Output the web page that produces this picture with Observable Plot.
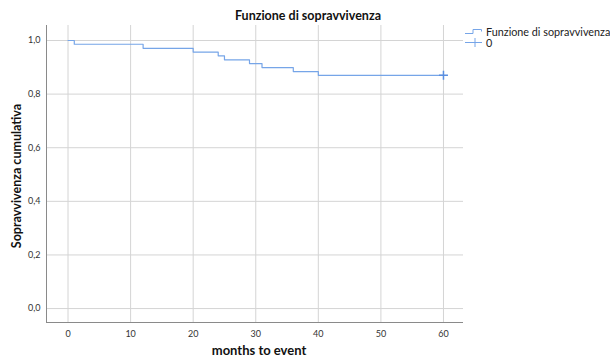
<!DOCTYPE html>
<html><head><meta charset="utf-8">
<script src="https://cdn.jsdelivr.net/npm/d3@7"></script>
<script src="https://cdn.jsdelivr.net/npm/@observablehq/plot@0.6"></script>
<style>
html,body{margin:0;padding:0;background:#fff;}
#chart{position:relative;width:610px;height:357px;}
</style>
</head><body><div id="chart"></div>
<script>
// Kaplan-Meier survival steps
const eventTimes = [0, 1, 12, 20, 24, 25, 29, 31, 36, 40, 60];
const survival   = [1.0, 0.986, 0.971, 0.957, 0.943, 0.928, 0.914, 0.899, 0.884, 0.870, 0.870];
const censorTimes = [60];
const censorSurv  = [0.870];
const xTicks = [0, 10, 20, 30, 40, 50, 60];
const yTicks = [0, 0.2, 0.4, 0.6, 0.8, 1.0];
const titleText = "Funzione di sopravvivenza";
const xLabel = "months to event";
const yLabel = "Sopravvivenza cumulativa";
const legendItems = ["Funzione di sopravvivenza", "0"];

const xDomain = [-3.44, 63.2];
const yDomain = [-0.052, 1.056];
const lineColor = "#76a5e8";
const censorColor = "#5a8fe0";
const gridColor = "#d4d4d4";
const font = "Lato, 'Open Sans', sans-serif";

const steps = eventTimes.map((t, i) => ({t, s: survival[i]}));
const cens = censorTimes.map((t, i) => ({t, s: censorSurv[i]}));
const yFmt = d => d.toFixed(1).replace(".", ",");

const plot = Plot.plot({
  width: 610, height: 357,
  marginLeft: 46, marginRight: 147, marginTop: 25, marginBottom: 35,
  style: {fontFamily: font, fontSize: "9px", color: "#333", background: "#fff"},
  x: {domain: xDomain, label: null},
  y: {domain: yDomain, label: null},
  marks: [
    Plot.gridX(xTicks, {stroke: gridColor, strokeOpacity: 1, strokeWidth: 1}),
    Plot.gridY(yTicks, {stroke: gridColor, strokeOpacity: 1, strokeWidth: 1}),
    Plot.axisX(xTicks, {tickSize: 0, tickPadding: 8, fontSize: 9, fill: "#333", tickFormat: d => String(d), label: null}),
    Plot.axisY(yTicks, {tickSize: 0, tickPadding: 6, fontSize: 9, fill: "#333", tickFormat: yFmt, label: null}),
    Plot.ruleX([xDomain[0]], {stroke: "#8a8a8a", strokeWidth: 1}),
    Plot.ruleY([yDomain[0]], {stroke: "#8a8a8a", strokeWidth: 1}),
    Plot.line(steps, {x: "t", y: "s", curve: "step-after", stroke: lineColor, strokeWidth: 1.2}),
    Plot.dot(cens, {x: "t", y: "s", symbol: "plus", r: 3, stroke: censorColor, strokeWidth: 1.5})
  ]
});
document.getElementById("chart").appendChild(plot);

const svg = d3.select(plot);
svg.append("text").attr("x", 308).attr("y", 20).attr("text-anchor", "middle")
  .attr("font-family", font).attr("font-size", 12.5).attr("font-weight", "bold").attr("fill", "#111")
  .text(titleText);
svg.append("text").attr("x", 259).attr("y", 354.5).attr("text-anchor", "middle")
  .attr("font-family", font).attr("font-size", 13).attr("font-weight", "bold").attr("fill", "#111")
  .text(xLabel);
svg.append("text").attr("transform", "translate(21,176) rotate(-90)").attr("text-anchor", "middle")
  .attr("font-family", font).attr("font-size", 12.5).attr("font-weight", "bold").attr("fill", "#111")
  .text(yLabel);

// legend
const lg = svg.append("g").attr("font-family", font).attr("font-size", 10.8).attr("fill", "#222").attr("text-anchor", "start");
lg.append("path").attr("d", "M465,33.5 H473 V29.5 H481.5 V31.5").attr("fill", "none").attr("stroke", lineColor).attr("stroke-width", 1);
lg.append("text").attr("x", 486).attr("y", 35.5).text(legendItems[0]);
lg.append("path").attr("d", "M465,42.5 H482 M475,38 V47").attr("fill", "none").attr("stroke", lineColor).attr("stroke-width", 1);
lg.append("text").attr("x", 486).attr("y", 47).text(legendItems[1]);
</script>
</body></html>
